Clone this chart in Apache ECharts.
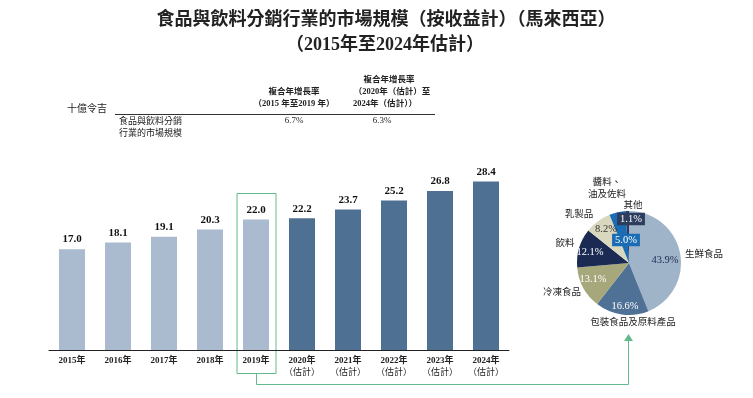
<!DOCTYPE html>
<html>
<head>
<meta charset="utf-8">
<script src="https://cdn.jsdelivr.net/npm/echarts@6/dist/echarts.min.js"></script>
<style>
  html, body { margin: 0; padding: 0; background: #fff; }
  #chart { width: 753px; height: 398px; }
</style>
</head>
<body>
<div id="chart"></div>
<script>
// Market size, RM billion
const years = ["2015年", "2016年", "2017年", "2018年", "2019年", "2020年", "2021年", "2022年", "2023年", "2024年"];
const estimated = [false, false, false, false, false, true, true, true, true, true];
const marketSize = [17.0, 18.1, 19.1, 20.3, 22.0, 22.2, 23.7, 25.2, 26.8, 28.4];

// 2024 breakdown (%)
const segNames = ["生鮮食品", "包裝食品及原料產品", "冷凍食品", "飲料", "乳製品", "醬料、\n油及佐料", "其他"];
const segShare = [43.9, 16.6, 13.1, 12.1, 8.2, 5.0, 1.1];
const segColors = ["#a0b4c9", "#4f7196", "#a6a77b", "#1b2a52", "#d9d8bf", "#1a6cb5", "#2c3d5e"];
const segTextColors = ["#1b2a52", "#fff", "#fff", "#fff", "#333", "#fff", "#fff"];

// label anchor spots around the pie (layout only)
const innerPos = [[665, 260], [625, 306], [593, 279], [590, 252], [606, 229], [626, 240], [631, 219]];
const outerPos = [[704, 254], [633, 322], [562, 292], [565, 243], [579, 214], [607, 188], [633, 205]];

const serif = "'Liberation Serif', 'Noto Sans CJK TC', serif";
const cjk = "'Liberation Serif', 'Noto Sans CJK TC', serif";
const green = "#62ba8c";

const chart = echarts.init(document.getElementById("chart"));

const txt = (x, y, text, opts) => ({
  type: "text", x, y,
  style: Object.assign({ text, fill: "#222", font: "9px " + cjk, align: "center", verticalAlign: "middle" }, opts || {})
});

const option = {
  animation: false,
  grid: { left: 49, width: 460, top: 172, bottom: 48 },
  xAxis: {
    type: "category",
    data: years,
    axisTick: { show: false },
    axisLine: { lineStyle: { color: "#222", width: 1 } },
    axisLabel: {
      interval: 0,
      color: "#222",
      fontFamily: cjk,
      fontSize: 9,
      margin: 5,
      lineHeight: 12,
      formatter: (v, i) => estimated[i] ? "{b|" + v + "}\n{n|（估計）}" : "{b|" + v + "}",
      rich: {
        b: { fontWeight: "bold", fontSize: 9, fontFamily: serif, color: "#222", lineHeight: 12 },
        n: { fontSize: 9, fontFamily: cjk, color: "#222", lineHeight: 12 }
      }
    }
  },
  yAxis: { type: "value", min: 0, max: 30, show: false },
  series: [
    {
      type: "bar",
      barWidth: 26,
      data: marketSize.map((v, i) => ({
        value: v,
        itemStyle: { color: estimated[i] ? "#4e7193" : "#aabbd0" }
      })),
      label: {
        show: true,
        position: "top",
        distance: 4,
        formatter: (p) => p.value.toFixed(1),
        color: "#111",
        fontWeight: "bold",
        fontSize: 11,
        fontFamily: serif
      }
    },
    {
      type: "pie",
      center: [629, 263],
      radius: [0, 52],
      startAngle: 90,
      data: segNames.map((n, i) => ({
        name: n,
        value: segShare[i],
        itemStyle: { color: segColors[i] },
        label: i >= 5
          ? { color: "#fff", backgroundColor: segColors[i], padding: [1, 3] }
          : { color: segTextColors[i] }
      })),
      label: {
        show: true,
        position: "inside",
        formatter: (p) => p.value.toFixed(1) + "%",
        fontFamily: serif,
        fontSize: 10.5
      },
      labelLine: { show: false },
      labelLayout: (p) => ({ x: innerPos[p.dataIndex][0], y: innerPos[p.dataIndex][1], align: "center", verticalAlign: "middle" }),
      emphasis: { disabled: true }
    },
    {
      type: "pie",
      center: [629, 263],
      radius: [0, 52],
      startAngle: 90,
      silent: true,
      itemStyle: { color: "transparent" },
      data: segNames.map((n, i) => ({ name: n, value: segShare[i] })),
      label: {
        show: true,
        position: "inside",
        formatter: "{b}",
        fontFamily: cjk,
        fontSize: 9.5,
        color: "#222",
        lineHeight: 12
      },
      labelLine: { show: false },
      labelLayout: (p) => ({ x: outerPos[p.dataIndex][0], y: outerPos[p.dataIndex][1], align: "center", verticalAlign: "middle" }),
      emphasis: { disabled: true }
    }
  ],
  graphic: [
    txt(386, 20, "食品與飲料分銷行業的市場規模（按收益計）（馬來西亞）", { font: "bold 18px " + cjk }),
    txt(385, 45, "（2015年至2024年估計）", { font: "bold 18px " + cjk }),
    txt(87, 109, "十億令吉", { font: "10px " + cjk }),
    { type: "line", shape: { x1: 115, y1: 114.5, x2: 435, y2: 114.5 }, style: { stroke: "#333", lineWidth: 1 } },
    txt(294, 92, "複合年增長率", { font: "bold 8.5px " + cjk }),
    txt(294, 104, "（2015 年至2019 年）", { font: "bold 8.5px " + cjk }),
    txt(389, 80, "複合年增長率", { font: "bold 8.5px " + cjk }),
    txt(392, 92, "（2020年（估計）至", { font: "bold 8.5px " + cjk }),
    txt(385, 104, "2024年（估計））", { font: "bold 8.5px " + cjk }),
    txt(294, 121, "6.7%", { font: "9px " + serif }),
    txt(382, 121, "6.3%", { font: "9px " + serif }),
    txt(119, 122, "食品與飲料分銷", { align: "left", font: "9px " + cjk }),
    txt(119, 134, "行業的市場規模", { align: "left", font: "9px " + cjk })
  ]
};

chart.setOption(option);

// highlight box around 2019 and the connector to the pie
const p19 = chart.convertToPixel({ xAxisIndex: 0, yAxisIndex: 0 }, ["2019年", 0]);
const pTop = chart.convertToPixel({ xAxisIndex: 0, yAxisIndex: 0 }, ["2019年", 26.5]);
const cx = Math.round(p19[0]) + 0.5;
const boxTop = Math.round(pTop[1]) + 0.5;
const boxBottom = Math.round(p19[1]) + 23.5;
const arrowX = 628.5, lineY = boxBottom + 11, arrowTip = 334;
chart.setOption({
  graphic: option.graphic.concat([
    { type: "rect", shape: { x: cx - 19.5, y: boxTop, width: 39, height: boxBottom - boxTop }, style: { fill: "none", stroke: green, lineWidth: 1 } },
    { type: "polyline", shape: { points: [[cx, boxBottom], [cx, lineY], [arrowX, lineY], [arrowX, arrowTip + 6]] }, style: { fill: "none", stroke: green, lineWidth: 1 } },
    { type: "polygon", shape: { points: [[arrowX, arrowTip], [arrowX - 4.5, arrowTip + 7], [arrowX + 4.5, arrowTip + 7]] }, style: { fill: green } }
  ])
});
</script>
</body>
</html>
